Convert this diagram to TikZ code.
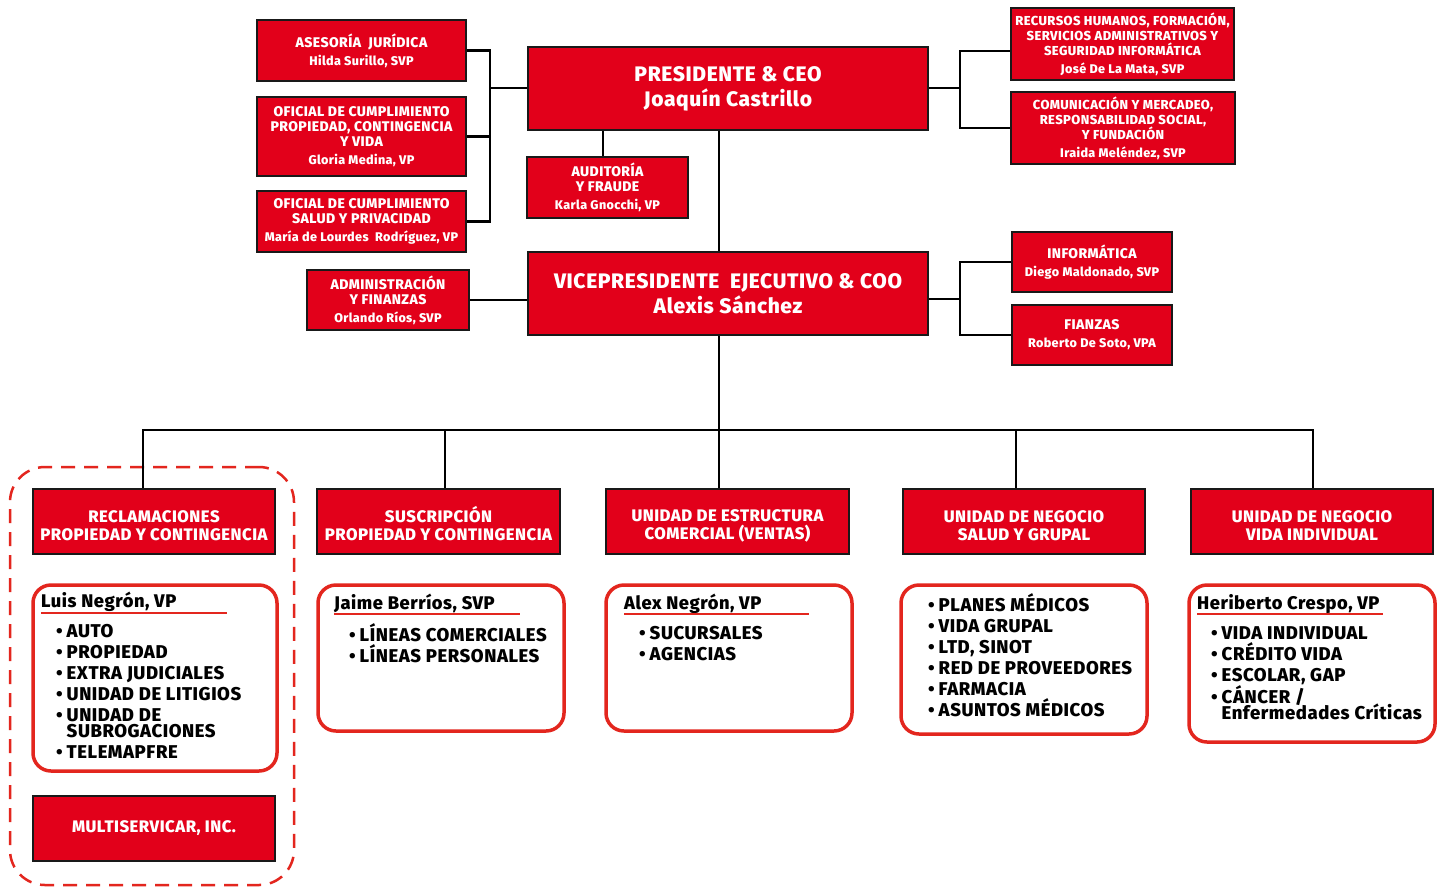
\documentclass[tikz,border=0pt]{standalone}
\usepackage{fontspec}
\setmainfont{Fira Sans}[LetterSpace=3, BoldFont={Fira Sans ExtraBold}]
\definecolor{mred}{HTML}{E2001A}
\definecolor{fred}{HTML}{E3261E}
\newcommand\nmline[1]{{\fontsize{12.6}{14}\selectfont #1}}
\newcommand\fl{\rule{0pt}{14pt}}
\newcommand\dn{\rule{0pt}{20pt}}
\newcommand\bl{•\kern4pt}
\tikzset{
  redbox/.style={draw=black!90, line width=2.5pt, fill=mred, text=white, font=\bfseries\fontsize{14}{15}\selectfont, align=center, inner sep=0pt},
  smallbox/.style={redbox, font=\bfseries\fontsize{13}{15}\selectfont},
  bigbox/.style={redbox, font=\bfseries\fontsize{21}{25}\selectfont},
  unitbox/.style={redbox, font=\bfseries\fontsize{16.7}{18}\selectfont},
  frame/.style={draw=fred, line width=3.5pt, rounded corners=18pt, fill=white, inner sep=0pt},
  dashframe/.style={draw=fred, line width=2.5pt, rounded corners=35pt, dash pattern=on 14pt off 9pt, inner sep=0pt},
  conn/.style={draw=black, line width=2.5pt},
  hdr/.style={font=\bfseries\fontsize{18.3}{21}\selectfont, anchor=base west, inner sep=0pt},
  lst/.style={font=\bfseries\fontsize{18.5}{21}\selectfont, anchor=north west, align=left, inner sep=0pt},
  uline/.style={draw=fred, line width=1.5pt}
}
\begin{document}
\begin{tikzpicture}[x=1pt, y=-1pt]
\useasboundingbox (0,0) rectangle (1445,887);
\fill[white] (0,0) rectangle (1445,887);

% dashed group
\node[dashframe, minimum width=284, minimum height=418] (grp) at (152,676) {};

% top-left boxes
\node[redbox, minimum width=209, minimum height=61] (ase) at (361.5,50.5) {ASESORÍA\ \ JURÍDICA\\[3pt]\nmline{Hilda Surillo, SVP}};
\node[redbox, minimum width=209, minimum height=79] (of1) at (361.5,136.5) {OFICIAL DE CUMPLIMIENTO\\PROPIEDAD, CONTINGENCIA\\Y VIDA\\[3pt]\nmline{Gloria Medina, VP}};
\node[redbox, minimum width=209, minimum height=61] (of2) at (361.5,221.5) {OFICIAL DE CUMPLIMIENTO\\SALUD Y PRIVACIDAD\\[3pt]\nmline{María de Lourdes\ \ Rodríguez, VP}};
\node[redbox, minimum width=162, minimum height=60] (adm) at (388,300) {ADMINISTRACIÓN\\Y FINANZAS\\[3pt]\nmline{Orlando Ríos, SVP}};

% center
\node[bigbox, minimum width=400, minimum height=83] (pres) at (728,88.5) {PRESIDENTE \& CEO\\Joaquín Castrillo};
\node[redbox, minimum width=161, minimum height=61] (aud) at (607.5,187.5) {AUDITORÍA\\Y FRAUDE\\[3pt]\nmline{Karla Gnocchi, VP}};
\node[bigbox, minimum width=400, minimum height=83] (vp) at (728,293.5) {VICEPRESIDENTE\ \ EJECUTIVO \& COO\\Alexis Sánchez};

% right
\node[smallbox, minimum width=223, minimum height=72] (rrhh) at (1122.5,44) {RECURSOS HUMANOS, FORMACIÓN,\\SERVICIOS ADMINISTRATIVOS Y\\SEGURIDAD INFORMÁTICA\\[3pt]\nmline{José De La Mata, SVP}};
\node[smallbox, minimum width=224, minimum height=72] (com) at (1123,128) {COMUNICACIÓN Y MERCADEO,\\RESPONSABILIDAD SOCIAL,\\Y FUNDACIÓN\\[3pt]\nmline{Iraida Meléndez, SVP}};
\node[redbox, minimum width=160, minimum height=60] (inf) at (1092,262) {INFORMÁTICA\\[3pt]\nmline{Diego Maldonado, SVP}};
\node[redbox, minimum width=160, minimum height=60] (fia) at (1092,335) {FIANZAS\\[3pt]\nmline{Roberto De Soto, VPA}};

% units
\node[unitbox, minimum width=242, minimum height=65] (u1) at (154,521.5) {\dn RECLAMACIONES\\PROPIEDAD Y CONTINGENCIA};
\node[unitbox, minimum width=243, minimum height=65] (u2) at (438.5,521.5) {\dn SUSCRIPCIÓN\\PROPIEDAD Y CONTINGENCIA};
\node[unitbox, minimum width=243, minimum height=65] (u3) at (727.5,521.5) {\dn UNIDAD DE ESTRUCTURA\\COMERCIAL (VENTAS)};
\node[unitbox, minimum width=242, minimum height=65] (u4) at (1024,521.5) {\dn UNIDAD DE NEGOCIO\\SALUD Y GRUPAL};
\node[unitbox, minimum width=242, minimum height=65] (u5) at (1312,521.5) {\dn UNIDAD DE NEGOCIO\\VIDA INDIVIDUAL};
\node[unitbox, minimum width=242, minimum height=65] (multi) at (154,828.5) {MULTISERVICAR, INC.};

% frames
\node[frame, minimum width=244, minimum height=186] (f1) at (155,678) {};
\node[frame, minimum width=246, minimum height=146] (f2) at (441,658) {};
\node[frame, minimum width=246, minimum height=146] (f3) at (729,658) {};
\node[frame, minimum width=246, minimum height=149] (f4) at (1024,659.5) {};
\node[frame, minimum width=246, minimum height=157] (f5) at (1312,663.5) {};

% headers
\node[hdr] (h1) at (41,607) {Luis Negrón, VP};
\draw[uline] (41,613) -- (227,613);
\node[hdr] (h2) at (334,609) {Jaime Berríos, SVP};
\draw[uline] (334,614) -- (520,614);
\node[hdr] (h3) at (624,609) {Alex Negrón, VP};
\draw[uline] (624,614) -- (809,614);
\node[hdr] (h5) at (1197,609) {Heriberto Crespo, VP};
\draw[uline] (1197,614) -- (1383,614);

% lists
\node[lst] (l1) at (56,623) {\fl\bl AUTO\\\bl PROPIEDAD\\\bl EXTRA JUDICIALES\\\bl UNIDAD DE LITIGIOS\\\bl UNIDAD DE\\[-5pt]\hphantom{\bl}SUBROGACIONES\\\bl TELEMAPFRE};
\node[lst] (l2) at (349,623) {\fl\bl LÍNEAS COMERCIALES\\\bl LÍNEAS PERSONALES};
\node[lst] (l3) at (639,625) {\fl\bl SUCURSALES\\\bl AGENCIAS};
\node[lst] (l4) at (928,593) {\fl\bl PLANES MÉDICOS\\\bl VIDA GRUPAL\\\bl LTD, SINOT\\\bl RED DE PROVEEDORES\\\bl FARMACIA\\\bl ASUNTOS MÉDICOS};
\node[lst] (l5) at (1211,625) {\fl\bl VIDA INDIVIDUAL\\\bl CRÉDITO VIDA\\\bl ESCOLAR, GAP\\\bl CÁNCER /\\[-5pt]\hphantom{\bl}Enfermedades Críticas};

% connectors
\coordinate (lb) at (490,88);
\draw[conn] (ase.east) -| (lb);
\draw[conn] (of2.east) -| (lb);
\draw[conn] (of1.east) -- (of1.east -| lb);
\draw[conn] (lb) -- (lb -| pres.west);
\draw[conn] ([xshift=-4.5pt]aud.north) -- ([xshift=-4.5pt]aud.north |- pres.south);
\draw[conn] (adm.east) -- (adm.east -| vp.west);

\coordinate (rb1) at (960,88);
\draw[conn] (rb1 -| pres.east) -- (rb1);
\draw[conn] ([yshift=-7pt]rrhh.west) -| (rb1);
\draw[conn] (com.west) -| (rb1);
\coordinate (rb2) at (960,299);
\draw[conn] (rb2 -| vp.east) -- (rb2);
\draw[conn] (inf.west) -| (rb2);
\draw[conn] (fia.west) -| (rb2);

\coordinate (tk) at (719,430);
\draw[conn] (tk |- pres.south) -- (tk |- vp.north);
\draw[conn] (tk |- vp.south) -- (tk);
\coordinate (d1) at (143,430);
\coordinate (d2) at (445,430);
\coordinate (d4) at (1016,430);
\coordinate (d5) at (1313,430);
\draw[conn] (d1 |- u1.north) -- (d1) -- (d5) -- (d5 |- u5.north);
\draw[conn] (d2) -- (d2 |- u2.north);
\draw[conn] (tk) -- (tk |- u3.north);
\draw[conn] (d4) -- (d4 |- u4.north);
\end{tikzpicture}
\end{document}
